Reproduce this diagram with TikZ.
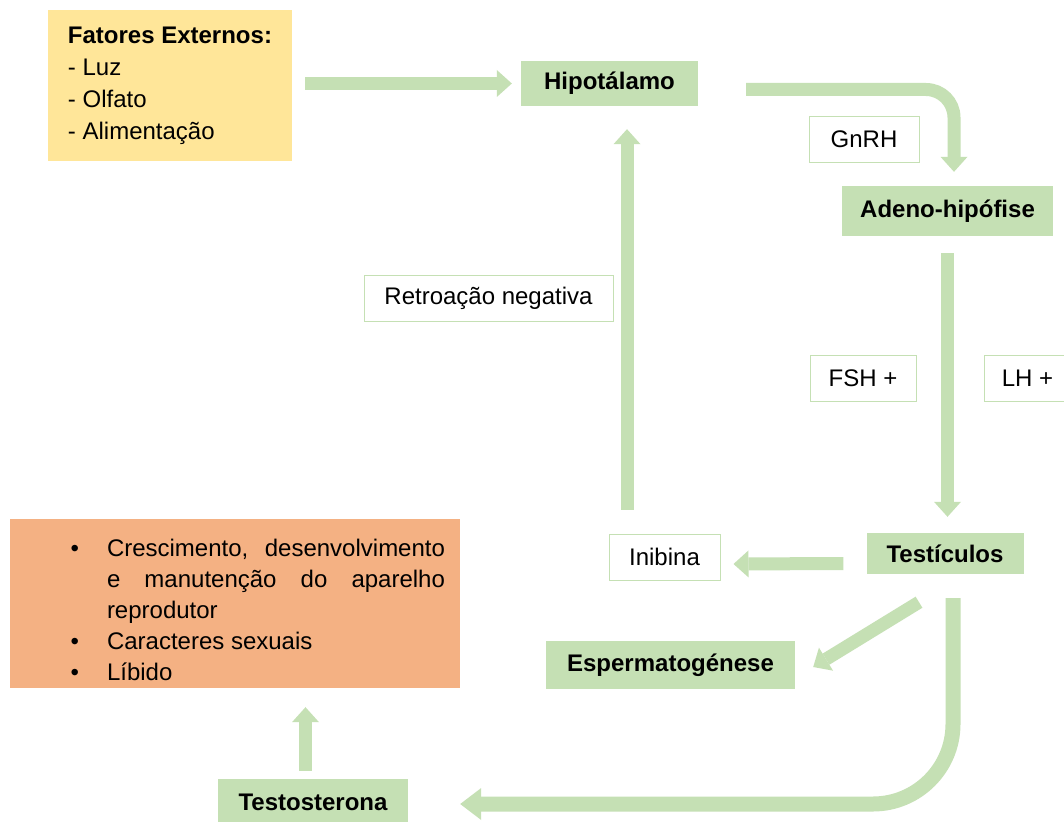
\documentclass[tikz,border=0pt]{standalone}
\usepackage{fontspec}
\setmainfont{Liberation Sans}
\usepackage{enumitem}
\usetikzlibrary{arrows.meta}
\definecolor{verde}{RGB}{197,224,180}
\definecolor{amarelo}{RGB}{255,230,153}
\definecolor{laranja}{RGB}{244,177,131}

\begin{document}
\begin{tikzpicture}[x=1pt, y=-1pt,
  font=\fontsize{24}{32}\selectfont,
  caixa/.style={fill=verde, font=\fontsize{24}{32}\selectfont\bfseries, inner sep=0pt},
  rotulo/.style={draw=verde, line width=1pt, fill=white, inner sep=0pt, minimum height=46pt},
  seta/.style={draw=verde, line width=13pt, -{Triangle[length=15pt,width=27pt,line width=0pt]}},
  setagrossa/.style={draw=verde, line width=15pt, -{Triangle[length=21pt,width=32pt,line width=0pt]}}]

  \useasboundingbox[fill=white] (0,0) rectangle (1064,821);

  % caixas coloridas
  \node[fill=amarelo, align=left, minimum width=244pt, minimum height=151pt, inner sep=0pt] (fatores) at (170,85.5)
    {\textbf{Fatores Externos:}\\- Luz\\- Olfato\\- Alimentação};
  \node[fill=laranja, text width=420pt, align=justify, minimum height=169pt, inner xsep=15pt, inner ysep=0pt,
    font=\fontsize{24}{31}\selectfont] (efeitos) at (235,603.5)
    {\hyphenpenalty=10000 \tolerance=10000
     \begin{itemize}[leftmargin=82pt, labelsep=28pt, itemsep=0pt, topsep=0pt, parsep=0pt, partopsep=0pt]
      \item Crescimento, desenvolvimento\linebreak e manutenção do aparelho reprodutor
      \item Caracteres sexuais
      \item Líbido
     \end{itemize}};

  \node[caixa, minimum width=177pt, minimum height=45pt] (hipo) at (609.5,83.5) {Hipotálamo};
  \node[caixa, minimum width=211pt, minimum height=50pt] (adeno) at (947.5,211) {Adeno-hipófise};
  \node[caixa, minimum width=157pt, minimum height=41pt] (test) at (945,553.5) {Testículos};
  \node[caixa, minimum width=249pt, minimum height=48pt] (esperm) at (670.5,665) {Espermatogénese};
  \node[caixa, minimum width=190pt, minimum height=46pt] (testo) at (313,802) {Testosterona};

  % rotulos
  \foreach \nome/\px/\py/\larg/\texto in {gnrh/864/139.5/110/GnRH, fsh/863/378.5/106/FSH +,
      lh/1027.5/378.5/87/LH +, retro/488.5/298/249/Retroação negativa, inibina/664.5/557/111/Inibina} {
   \node[rotulo, minimum width=\larg pt] (\nome) at (\px,\py) {\texto};
  }

  % setas
  \draw[seta, shorten <=13pt, shorten >=9pt] (fatores.east |- hipo.west) -- (hipo.west);
  \draw[seta, rounded corners=28pt] ([shift={(48pt,-6pt)}]hipo.east) -| ([shift={(6.5pt,14pt)}]adeno.north);
  \draw[seta, shorten <=17pt, shorten >=16pt] (adeno.south) -- (adeno.south |- test.north);
  \draw[seta] ([shift={(-23pt,-10pt)}]test.west) -- ([shift={(13pt,-7pt)}]inibina.east);

  \coordinate (retroBase) at ([shift={(-37.5pt,24pt)}]inibina.north);
  \draw[seta, shorten >=23pt] (retroBase) -- (retroBase |- hipo.south);

  \draw[seta] ([shift={(-26pt,-28pt)}]test.south) -- ([shift={(18pt,-2pt)}]esperm.east);
  \draw[setagrossa, rounded corners=80pt] ([shift={(8pt,-24pt)}]test.south) |- ([shift={(52pt,-2pt)}]testo.east);

  \coordinate (testoTopo) at ([shift={(-7.5pt,8pt)}]testo.north);
  \draw[seta, shorten >=19pt] (testoTopo) -- (testoTopo |- efeitos.south);
\end{tikzpicture}
\end{document}
